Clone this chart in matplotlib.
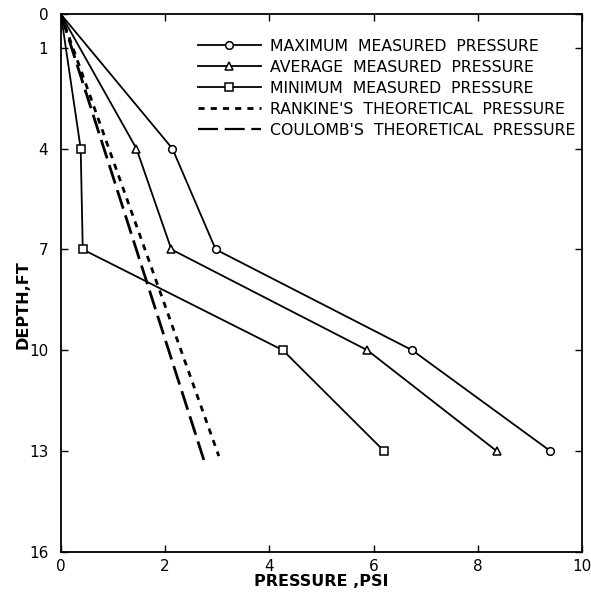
import numpy as np
import matplotlib
matplotlib.use("Agg")
import matplotlib.pyplot as plt
from matplotlib.lines import Line2D

depth = [0, 4, 7, 10, 13]
p_max = [0, 2.14, 2.97, 6.74, 9.39]
p_avg = [0, 1.45, 2.12, 5.88, 8.36]
p_min = [0, 0.38, 0.42, 4.26, 6.20]

rankine_depth = [0, 13.15]
rankine_p = [0, 3.03]
coulomb_depth = [0, 13.3]
coulomb_p = [0, 2.75]

labels = ["MAXIMUM  MEASURED  PRESSURE",
          "AVERAGE  MEASURED  PRESSURE",
          "MINIMUM  MEASURED  PRESSURE",
          "RANKINE'S  THEORETICAL  PRESSURE",
          "COULOMB'S  THEORETICAL  PRESSURE"]

xticks = [0, 2, 4, 6, 8, 10]
yticks = [0, 1, 4, 7, 10, 13, 16]

fig = plt.figure(figsize=(5.91, 5.94), dpi=100)
ax = fig.add_axes([0.103, 0.071, 0.882, 0.905])

lw = 1.3
mk = dict(markersize=5.5, markerfacecolor="white", markeredgecolor="black", markeredgewidth=1.1)
ax.plot(p_max, depth, color="black", lw=lw, marker="o", markevery=[1, 2, 3, 4], **mk)
ax.plot(p_avg, depth, color="black", lw=lw, marker="^", markevery=[1, 2, 3, 4], **mk)
ax.plot(p_min, depth, color="black", lw=lw, marker="s", markevery=[1, 2, 3, 4], **mk)
ax.plot(rankine_p, rankine_depth, color="black", lw=2.0, linestyle=(0, (2.2, 2.2)))
ax.plot(coulomb_p, coulomb_depth, color="black", lw=2.0, linestyle=(0, (7, 2.5)))

ax.set_xlim(0, 10)
ax.set_ylim(16, 0)
ax.set_xticks(xticks)
ax.set_xticklabels([str(t) for t in xticks])
ax.set_yticks(yticks)
ax.set_yticklabels([str(t) for t in yticks])
ax.tick_params(direction="in", length=5, width=1, labelsize=11, top=True, right=True, pad=5)
ax.tick_params(axis="y", pad=9)
for s in ax.spines.values():
    s.set_linewidth(1.3)

ax.set_xlabel("PRESSURE ,PSI", fontsize=11.5, fontweight="bold", labelpad=0)
ax.set_ylabel("DEPTH,FT", fontsize=11.5, fontweight="bold")
ax.yaxis.set_label_coords(-0.058, 0.46)

handles = [
    Line2D([], [], color="black", lw=lw, marker="o", **mk),
    Line2D([], [], color="black", lw=lw, marker="^", **mk),
    Line2D([], [], color="black", lw=lw, marker="s", **mk),
    Line2D([], [], color="black", lw=2.0, linestyle=(0, (2.2, 2.2))),
    Line2D([], [], color="black", lw=1.6, linestyle=(0, (9, 3))),
]
leg = ax.legend(handles, labels, loc="upper left", bbox_to_anchor=(0.263, 0.954),
                frameon=False, fontsize=11.3, handlelength=4.0, handletextpad=0.6,
                labelspacing=0.38, borderpad=0, borderaxespad=0)

fig.savefig("out.png", dpi=100)
